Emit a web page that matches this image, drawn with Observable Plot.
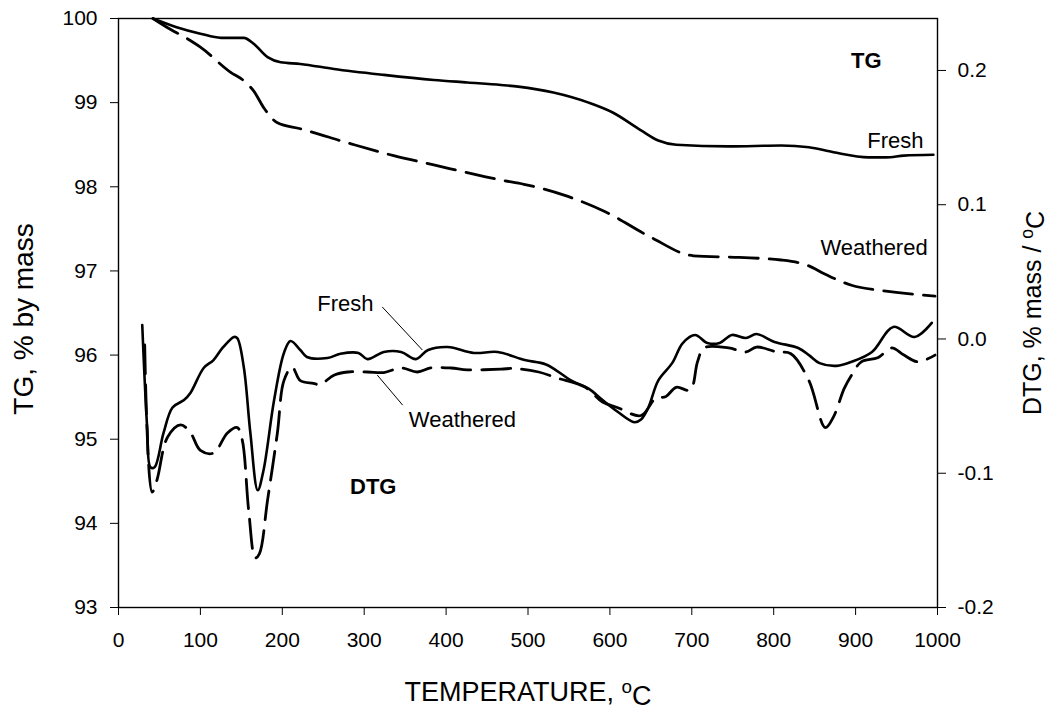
<!DOCTYPE html>
<html><head><meta charset="utf-8">
<script src="https://cdn.jsdelivr.net/npm/d3@7"></script>
<script src="https://cdn.jsdelivr.net/npm/@observablehq/plot@0.6"></script>
<style>
body{margin:0;background:#fff;}
#chart svg{font-family:"Liberation Sans",Arial,sans-serif;}
</style>
</head><body><div id="chart"></div>
<script>
// ---- TG (left axis, % by mass) ----
const tgFreshT = [42, 70, 100, 125, 153, 165, 182, 198, 222, 263, 324, 385, 426, 467, 488, 531, 574, 604, 638, 659, 681, 745, 809, 843, 873, 916, 937, 959, 995];
const tgFreshV = [100, 99.9, 99.82, 99.77, 99.77, 99.70, 99.54, 99.48, 99.46, 99.40, 99.33, 99.27, 99.24, 99.21, 99.19, 99.12, 99.00, 98.88, 98.67, 98.55, 98.50, 98.48, 98.49, 98.47, 98.41, 98.35, 98.35, 98.37, 98.38];
const tgWeathT = [42, 60, 84, 100, 137, 153, 165, 178, 194, 222, 284, 336, 385, 443, 467, 495, 544, 595, 650, 702, 758, 809, 843, 861, 895, 937, 997];
const tgWeathV = [100, 99.89, 99.76, 99.66, 99.36, 99.26, 99.14, 98.93, 98.76, 98.69, 98.51, 98.37, 98.26, 98.13, 98.08, 98.03, 97.90, 97.70, 97.40, 97.18, 97.16, 97.13, 97.06, 96.97, 96.83, 96.76, 96.70];

// ---- DTG (right axis, % mass / °C) ----
const dtgFreshT = [29, 35, 39, 44, 55, 66, 80, 88, 104, 116, 127, 141, 145, 153, 161, 170, 177, 190, 202, 210, 222, 230, 255, 271, 293, 304, 324, 345, 363, 378, 402, 434, 463, 496, 522, 553, 574, 591, 609, 630, 638, 647, 659, 676, 689, 704, 719, 734, 749, 766, 779, 801, 830, 843, 856, 877, 895, 920, 946, 972, 993];
const dtgFreshV = [0.0104, -0.066, -0.0955, -0.0955, -0.070, -0.051, -0.0455, -0.040, -0.0216, -0.0157, -0.0067, 0.0015, 0.0007, -0.021, -0.070, -0.1127, -0.098, -0.0455, -0.0104, -0.0015, -0.0082, -0.0134, -0.0142, -0.011, -0.0104, -0.015, -0.0097, -0.0097, -0.015, -0.0082, -0.006, -0.0104, -0.0097, -0.0157, -0.019, -0.031, -0.037, -0.0455, -0.054, -0.062, -0.060, -0.051, -0.031, -0.018, -0.003, 0.003, -0.003, -0.003, 0.003, 0.0007, 0.0037, -0.0022, -0.0067, -0.012, -0.018, -0.020, -0.017, -0.0097, 0.009, 0.0015, 0.012];
const dtgWeathT = [32, 41, 47, 60, 76, 88, 100, 116, 133, 145, 151, 159, 167, 172, 182, 194, 202, 212, 222, 238, 246, 263, 280, 304, 324, 345, 365, 381, 406, 426, 467, 484, 513, 535, 570, 591, 609, 638, 656, 668, 681, 698, 707, 715, 745, 766, 779, 804, 821, 843, 863, 873, 886, 895, 907, 927, 944, 959, 976, 997];
const dtgWeathV = [-0.0045, -0.114, -0.105, -0.073, -0.064, -0.070, -0.083, -0.085, -0.070, -0.066, -0.075, -0.128, -0.163, -0.160, -0.120, -0.070, -0.031, -0.021, -0.031, -0.033, -0.034, -0.027, -0.0246, -0.0246, -0.025, -0.0216, -0.0246, -0.0216, -0.0216, -0.023, -0.0224, -0.022, -0.0246, -0.029, -0.036, -0.047, -0.051, -0.057, -0.044, -0.043, -0.036, -0.038, -0.017, -0.0067, -0.0067, -0.0097, -0.006, -0.0097, -0.011, -0.031, -0.066, -0.058, -0.037, -0.027, -0.017, -0.014, -0.0067, -0.012, -0.017, -0.012];

// ---- axes ----
const xTicks = [0, 100, 200, 300, 400, 500, 600, 700, 800, 900, 1000];
const tgTicks = [93, 94, 95, 96, 97, 98, 99, 100];
const dtgTicks = [-0.2, -0.1, 0.0, 0.1, 0.2];
const tgDomain = [93, 100];
const dtgDomain = [-0.2, 0.2387];

// ---- annotations ----
const annoText = ["TG", "Fresh", "Weathered", "Fresh", "Weathered", "DTG"];
const annoT = [913, 983, 988, 277, 420, 311];
const annoScale = ["tg", "tg", "tg", "dtg", "dtg", "dtg"];
const annoV = [99.50, 98.55, 97.27, 0.026, -0.060, -0.110];
const annoAnchor = ["middle", "end", "end", "middle", "middle", "middle"];
const annoBold = [true, false, false, false, false, true];
const leaderT = [[322, 371], [316, 347]];
const leaderV = [[0.0239, -0.0082], [-0.0269, -0.0493]];

// map DTG values onto the TG scale (shared plot y)
const K = (tgDomain[1] - tgDomain[0]) / (dtgDomain[1] - dtgDomain[0]);
const toTG = v => tgDomain[0] + (v - dtgDomain[0]) * K;
const fromTG = y => dtgDomain[0] + (y - tgDomain[0]) / K;

const series = (T, V, f = v => v) => T.map((t, i) => ({t, v: f(V[i])}));
const tgFresh = series(tgFreshT, tgFreshV);
const tgWeath = series(tgWeathT, tgWeathV);
const dtgFresh = series(dtgFreshT, dtgFreshV, toTG);
const dtgWeath = series(dtgWeathT, dtgWeathV, toTG);

const annos = annoText.map((s, i) => ({s, t: annoT[i], v: annoScale[i] === "dtg" ? toTG(annoV[i]) : annoV[i], a: annoAnchor[i], b: annoBold[i]}));
const leaders = leaderT.map((tt, i) => ({x1: tt[0], x2: tt[1], y1: toTG(leaderV[i][0]), y2: toTG(leaderV[i][1])}));

const dash = "29,11";
const font = 21;

const plot = Plot.plot({
  width: 1048, height: 713,
  marginLeft: 118, marginRight: 111, marginTop: 18, marginBottom: 106,
  x: {domain: [0, 1000]},
  y: {domain: tgDomain},
  style: {fontFamily: "Liberation Sans, Arial, sans-serif", background: "#fff", color: "#000"},
  marks: [
    Plot.line(tgFresh, {x: "t", y: "v", stroke: "#000", strokeWidth: 2.6, curve: "monotone-x"}),
    Plot.line(tgWeath, {x: "t", y: "v", stroke: "#000", strokeWidth: 2.8, strokeDasharray: dash, curve: "monotone-x"}),
    Plot.line(dtgFresh, {x: "t", y: "v", stroke: "#000", strokeWidth: 2.6, curve: "catmull-rom"}),
    Plot.line(dtgWeath, {x: "t", y: "v", stroke: "#000", strokeWidth: 2.8, strokeDasharray: dash, curve: "catmull-rom"}),
    Plot.link(leaders, {x1: "x1", y1: "y1", x2: "x2", y2: "y2", stroke: "#000", strokeWidth: 1}),
    Plot.text(annos.filter(d => d.b), {x: "t", y: "v", text: "s", textAnchor: "middle", fontSize: 22, fontWeight: "bold", fill: "#000"}),
    Plot.text(annos.filter(d => !d.b && d.a === "end"), {x: "t", y: "v", text: "s", textAnchor: "end", fontSize: 22, fill: "#000"}),
    Plot.text(annos.filter(d => !d.b && d.a === "middle"), {x: "t", y: "v", text: "s", textAnchor: "middle", fontSize: 22, fill: "#000"}),
    Plot.frame({stroke: "#000", strokeWidth: 1.4}),
    Plot.axisX(xTicks, {anchor: "bottom", tickSize: 8, tickPadding: 17, fontSize: font, label: null, tickFormat: d => String(d)}),
    Plot.axisY(tgTicks, {anchor: "left", tickSize: 8, tickPadding: 13, fontSize: font, label: null, tickFormat: d => String(d)}),
    Plot.axisY(dtgTicks.map(toTG), {anchor: "right", tickSize: 8, tickPadding: 12, fontSize: font, label: null,
      tickFormat: d => (Math.round(fromTG(d) * 10) / 10).toFixed(1)}),
    Plot.text(["TEMPERATURE, °C"], {text: d => d, frameAnchor: "bottom", dy: 85, textAnchor: "middle", lineAnchor: "middle", fontSize: 27, fill: "#000"}),
    Plot.text(["TG, % by mass"], {text: d => d, frameAnchor: "left", dx: -94, dy: 6, rotate: -90, textAnchor: "middle", lineAnchor: "middle", fontSize: 28, fill: "#000"}),
    Plot.text(["DTG, % mass / °C"], {text: d => d, frameAnchor: "right", dx: 95, rotate: -90, textAnchor: "middle", lineAnchor: "middle", fontSize: 25, fill: "#000"})
  ]
});
document.getElementById("chart").appendChild(plot);

// render the degree sign as a superscript "o", as in the original
d3.select(plot).selectAll("text").each(function() {
  const el = d3.select(this);
  const s = this.textContent;
  if (s.includes("°C") && !this.querySelector("tspan")) {
    const [a] = s.split("°C");
    el.text(null);
    el.append("tspan").text(a);
    el.append("tspan").attr("dy", "-0.45em").attr("font-size", "0.7em").text("o");
    el.append("tspan").attr("dy", "0.45em").text("C");
  }
});
</script>
</body></html>
